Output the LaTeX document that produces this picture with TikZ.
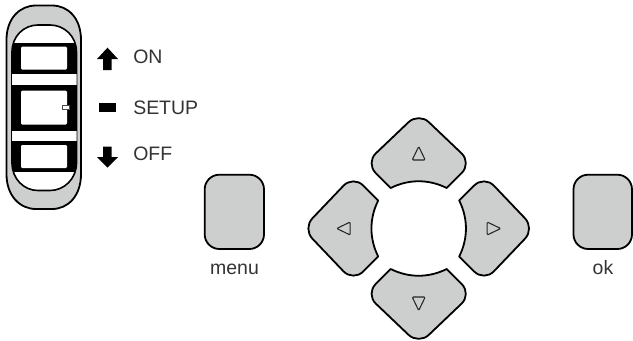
\documentclass[tikz,border=0pt]{standalone}
\usepackage{fontspec}
\setmainfont{Liberation Sans}
\definecolor{btn}{HTML}{CDCFCE}
\definecolor{txt}{HTML}{333333}
\tikzset{
  px/.style={x=0.75pt,y=-0.75pt},
  btnshape/.style={draw=black,fill=btn,line width=1.35pt,line join=round},
  tri/.style={draw=black!85,line width=0.8pt,line join=round,rounded corners=0.8pt},
  lbl/.style={text=txt,font=\fontsize{14.6pt}{16pt}\selectfont,inner sep=0pt,anchor=base west},
  lblc/.style={text=txt,font=\fontsize{14.6pt}{16pt}\selectfont,inner sep=0pt,anchor=base},
  mark1/.style={fill=black,draw=none},
  innerpath/.style={}
}
\newcommand{\padbutton}[1]{%
  \begin{scope}[shift={(418.7,228.5)},rotate=#1]
    \draw[btnshape] (-28,-40.5)
      [rounded corners=10.5pt] -- (-53,-65.5) -- (0,-116) -- (53,-65.5)
      [sharp corners] -- (28,-40.5)
      .. controls (10,-49.5) and (-10,-49.5) .. cycle;
    \draw[tri] (0,-82) -- (6.5,-68.5) -- (-6.5,-68.5) -- cycle;
  \end{scope}}
\newcommand{\innerswitch}{(12,52) .. controls (12,36) and (24,25) .. (38,25) -- (50,25)
  .. controls (64,25) and (76.5,36) .. (76.5,52) -- (76.5,163)
  .. controls (76.5,179) and (64,190.5) .. (50,190.5) -- (38,190.5)
  .. controls (24,190.5) and (12,179) .. (12,163) -- cycle}
\begin{document}
\begin{tikzpicture}[px]
\useasboundingbox (0,0) rectangle (633,340);
% switch
\draw[btnshape] (6.5,40) .. controls (6.5,18) and (20,5.5) .. (36,5.5) -- (52,5.5)
  .. controls (68,5.5) and (81,18) .. (81,40) -- (81,174)
  .. controls (81,196) and (68,209) .. (52,209) -- (36,209)
  .. controls (20,209) and (6.5,196) .. (6.5,174) -- cycle;
\draw[draw=black,fill=white,line width=1.2pt] \innerswitch;
\begin{scope}
  \clip \innerswitch;
  \fill[black] (5,43) rectangle (85,172);
  \fill[white] (5,74) rectangle (85,85);
  \fill[white] (5,131) rectangle (85,141);
\end{scope}
\fill[white,rounded corners=0.8pt] (21,46.7) rectangle (67,69.5);
\fill[white,rounded corners=0.8pt] (21,90.7) rectangle (67,124.5);
\fill[white,rounded corners=0.8pt] (21,145) rectangle (67,168);
\draw[draw=black!70,fill=white,line width=0.5pt] (62.5,105.5) rectangle (69,109.8);
% position marks
\fill[mark1] (107.5,47.7) -- (118,59) -- (111.5,59) -- (111.5,70) -- (103,70) -- (103,59) -- (97,59) -- cycle;
\fill[mark1] (99,103) rectangle (115.5,111.5);
\fill[mark1] (107.5,167.7) -- (118,157) -- (111.5,157) -- (111.5,146.5) -- (103,146.5) -- (103,157) -- (97,157) -- cycle;
\node[lbl] (on) at (133,63.5) {ON};
\node[lbl] (setup) at (133,114.5) {SETUP};
\node[lbl] (off) at (133,160.7) {OFF};
% d-pad
\padbutton{0}
\padbutton{90}
\padbutton{180}
\padbutton{270}
% side buttons
\draw[btnshape,rounded corners=11pt] (204.7,174.7) rectangle (264,249);
\draw[btnshape,rounded corners=11pt] (573.5,174.7) rectangle (632,249);
\node[lblc] (menu) at (234.5,274) {menu};
\node[lblc] (ok) at (603,274) {ok};
\end{tikzpicture}
\end{document}
